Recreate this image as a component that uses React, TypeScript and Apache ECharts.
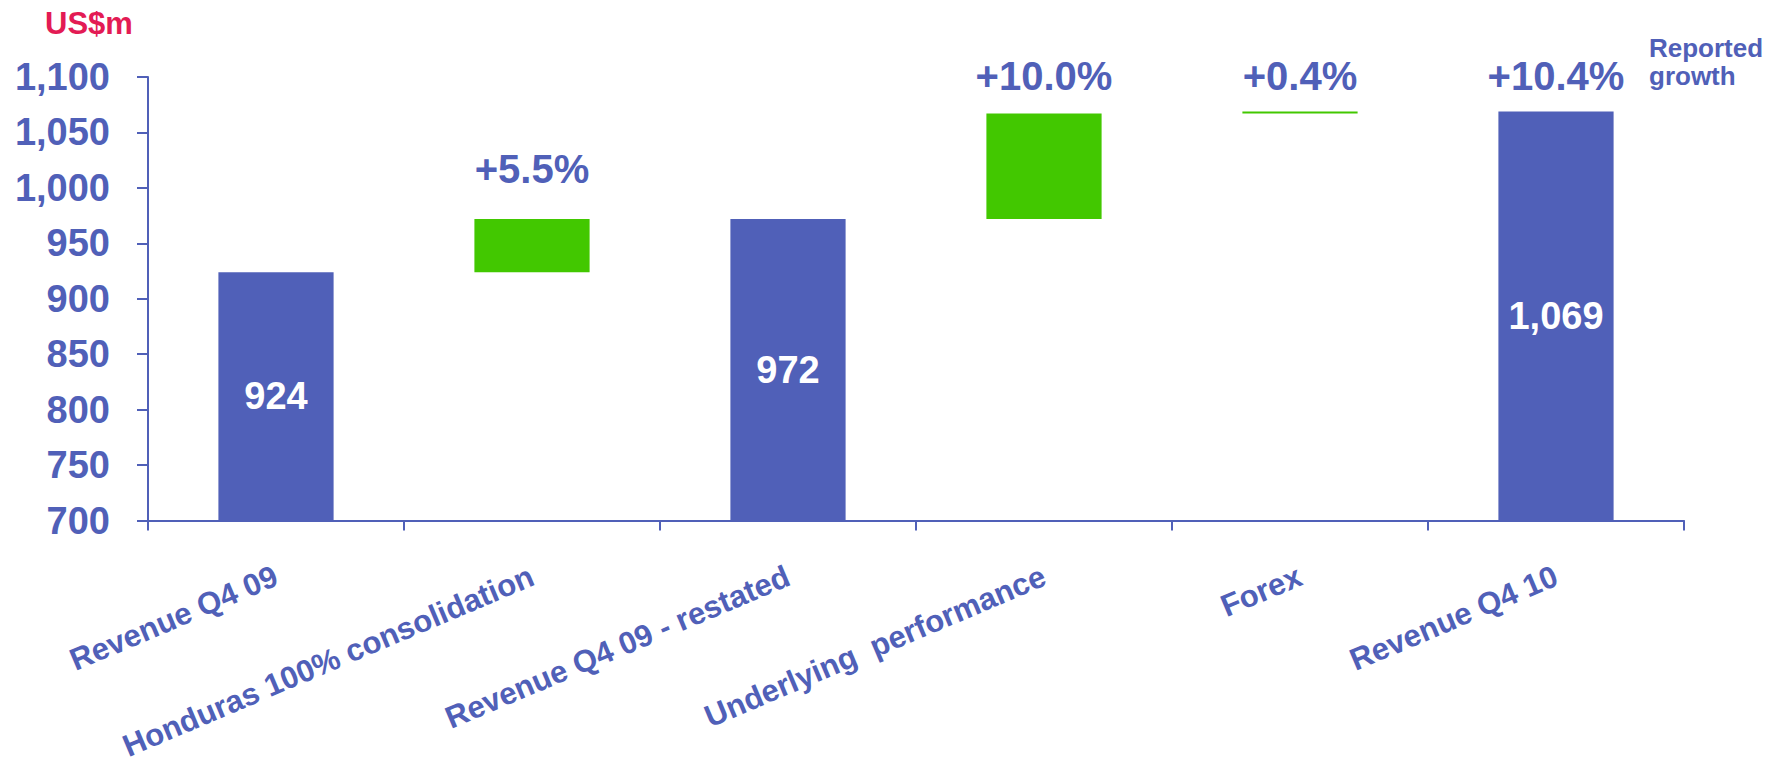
import React, { useEffect, useRef } from "react";
import * as echarts from "echarts";

const categories = [
  "Revenue Q4 09",
  "Honduras 100% consolidation",
  "Revenue Q4 09 - restated",
  "Underlying  performance",
  "Forex",
  "Revenue Q4 10",
];
// Total bars (blue)
const totals: (number | null)[] = [924, null, 972, null, null, 1069];
// Change bars (green): from -> to
const changeFrom: (number | null)[] = [null, 924, null, 972, 1067, null];
const changeTo: (number | null)[] = [null, 972, null, 1067, 1069, null];
const growthLabels = ["", "+5.5%", "", "+10.0%", "+0.4%", "+10.4%"];

const yMin = 700;
const yMax = 1100;
const yInterval = 50;

const BLUE = "#5060B8";
const GREEN = "#42C800";
const RED = "#E31B54";
const FONT = "Liberation Sans, Arial, sans-serif";

export default function App() {
  const ref = useRef<HTMLDivElement>(null);

  useEffect(() => {
    if (!ref.current) return;
    const chart = echarts.init(ref.current, undefined, { renderer: "svg" });

    const baseData = categories.map((_, i) =>
      changeFrom[i] != null ? changeFrom[i] : 0
    );
    const totalData = categories.map((_, i) =>
      totals[i] == null ? "-" : totals[i]
    );
    const changeData = categories.map((_, i) =>
      changeFrom[i] != null && changeTo[i] != null
        ? (changeTo[i] as number) - (changeFrom[i] as number)
        : "-"
    );
    // growth label anchor: top of the stacked bar in each category
    const labelTop = categories.map((_, i) => {
      if (!growthLabels[i]) return "-";
      const top = totals[i] != null ? totals[i] : changeTo[i];
      return { value: top, labelText: growthLabels[i], idx: i };
    });

    const labelDistance: Record<number, number> = { 1: 30, 3: 18, 4: 15, 5: 15 };

    chart.setOption({
      animation: false,
      grid: { left: 148, right: 97, top: 77, bottom: 239, containLabel: false },
      xAxis: {
        type: "category",
        data: categories,
        axisLine: { lineStyle: { color: BLUE, width: 2 } },
        axisTick: { show: true, length: 10, lineStyle: { color: BLUE, width: 2 } },
        axisLabel: {
          rotate: 23,
          margin: 54,
          interval: 0,
          color: BLUE,
          fontSize: 31,
          fontWeight: "bold",
          fontFamily: FONT,
        },
      },
      yAxis: {
        type: "value",
        min: yMin,
        max: yMax,
        interval: yInterval,
        splitLine: { show: false },
        axisLine: { show: true, lineStyle: { color: BLUE, width: 2 } },
        axisTick: { show: true, length: 11, lineStyle: { color: BLUE, width: 2 } },
        axisLabel: {
          margin: 38,
          color: BLUE,
          fontSize: 38,
          fontWeight: "bold",
          fontFamily: FONT,
          formatter: (v: number) => v.toLocaleString("en-US"),
        },
      },
      series: [
        {
          type: "bar",
          stack: "w",
          data: baseData,
          barWidth: "45%",
          itemStyle: { color: "transparent" },
          emphasis: { disabled: true },
          silent: true,
        },
        {
          type: "bar",
          stack: "w",
          data: totalData,
          barWidth: "45%",
          itemStyle: { color: BLUE },
          label: {
            show: true,
            position: "inside",
            color: "#fff",
            fontSize: 38,
            fontWeight: "bold",
            fontFamily: FONT,
            formatter: (p: any) => Number(p.value).toLocaleString("en-US"),
          },
        },
        {
          type: "bar",
          stack: "w",
          data: changeData,
          barWidth: "45%",
          itemStyle: { color: GREEN },
        },
        {
          type: "scatter",
          data: labelTop.map((d: any) =>
            d === "-"
              ? "-"
              : {
                  value: d.value,
                  label: {
                    show: true,
                    position: "top",
                    distance: labelDistance[d.idx] ?? 18,
                    formatter: d.labelText,
                  },
                }
          ),
          symbolSize: 0,
          silent: true,
          itemStyle: { opacity: 1 },
          label: {
            show: true,
            color: BLUE,
            fontSize: 40,
            fontWeight: "bold",
            fontFamily: FONT,
          },
        },
      ],
      graphic: [
        {
          type: "text",
          left: 45,
          top: 8,
          style: {
            text: "US$m",
            fill: RED,
            font: `bold 31px ${FONT}`,
          },
        },
        {
          type: "text",
          x: 1649,
          y: 62,
          style: {
            text: "Reported\ngrowth",
            fill: BLUE,
            font: `bold 26px ${FONT}`,
            lineHeight: 28,
            verticalAlign: "middle",
            align: "left",
          },
        },
      ],
    });

    return () => chart.dispose();
  }, []);

  return (
    <div
      ref={ref}
      style={{ position: "fixed", left: 0, top: 0, width: 1781, height: 763, background: "#fff" }}
    />
  );
}
